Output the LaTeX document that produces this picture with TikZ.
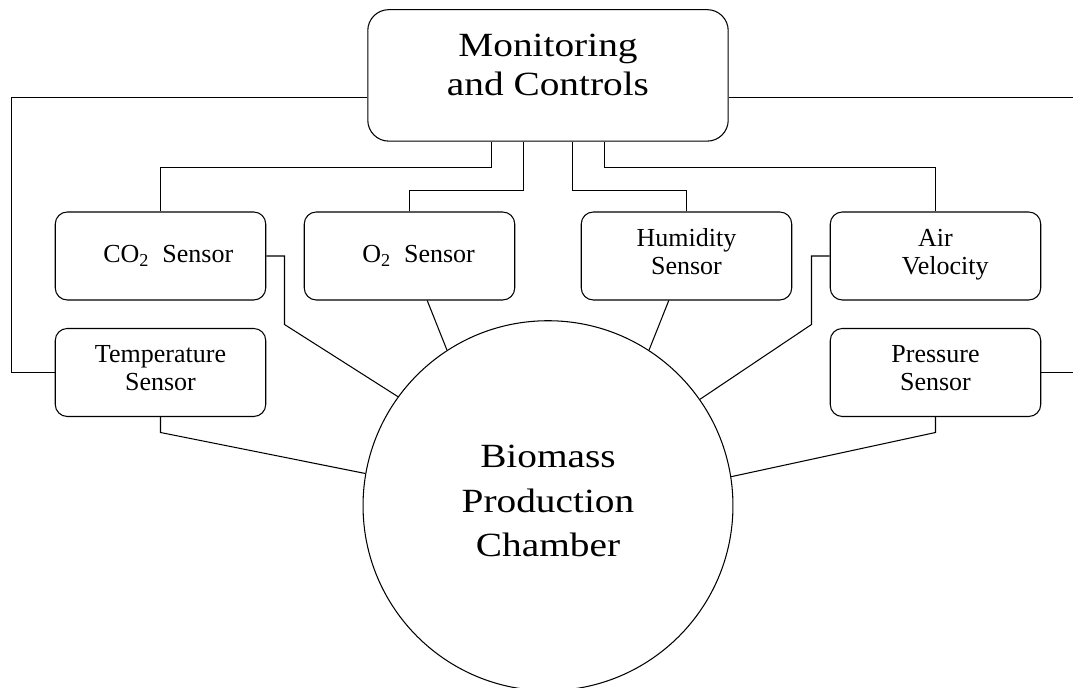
\documentclass[tikz,border=0pt]{standalone}
\usepackage{fontspec}
\setmainfont{Liberation Serif}
\newfontfamily\widefont[FakeStretch=1.16]{Liberation Serif}
\begin{document}
\begin{tikzpicture}[x=0.02cm,y=-0.02cm,line width=0.6pt,
	sensor/.style={rectangle,draw,rounded corners=0.24cm,minimum width=4.21cm,minimum height=1.76cm,inner sep=0pt,align=center,font=\fontsize{14.8}{16}\selectfont},
	twoline/.style={text depth=5pt},
	control/.style={rectangle,draw,rounded corners=0.42cm,minimum width=7.21cm,minimum height=2.63cm,inner sep=0pt,align=center,text depth=12.5pt,font=\widefont\fontsize{19.3}{22.1}\selectfont},
	chamber/.style={circle,draw,minimum size=7.4cm,inner sep=0pt,align=center,text depth=5.5pt,font=\widefont\fontsize{19.3}{25.3}\selectfont}]
	\useasboundingbox (0,0) rectangle (1073,688);

	\node (mc) [control] at (548,75.4) {Monitoring\\and Controls};
	\node (bpc) [chamber] at (548,505.7) {Biomass\\Production\\Chamber};

	\node (co2) [sensor] at (160.5,256) {\hspace*{0.6em}CO\textsubscript{2}\ \ Sensor};
	\node (o2) [sensor] at (409.5,256) {\hspace*{0.7em}O\textsubscript{2}\ \ Sensor};
	\node (hum) [sensor,twoline] at (686.5,256) {Humidity\\Sensor};
	\node (air) [sensor,twoline] at (935.5,256) {Air\\\hspace*{0.75em}Velocity};
	\node (temp) [sensor,twoline] at (160.5,372.5) {Temperature\\Sensor};
	\node (pres) [sensor,twoline] at (935.5,372.5) {Pressure\\Sensor};

	% monitoring and controls to the sensors
	\draw (491.5,0 |- mc.south) -- (491.5,167.5) -| (co2);
	\draw (523.5,0 |- mc.south) -- (523.5,190.5) -| (o2);
	\draw (572.5,0 |- mc.south) -- (572.5,190.5) -| (hum);
	\draw (604.5,0 |- mc.south) -- (604.5,167.5) -| (air);
	\draw (0,97.5 -| mc.west) -- (11.5,97.5) |- (temp);
	\draw (0,97.5 -| mc.east) -- (1084.5,97.5) |- (pres);

	% sensors to the chamber
	\draw (co2) -- (284.5,256) -- (284.5,324.5) -- (bpc.144.6);
	\draw (o2) -- (bpc.123);
	\draw (hum) -- (bpc.57);
	\draw (air) -- (811.5,256) -- (811.5,324.5) -- (bpc.35.4);
	\draw (temp) -- (160.5,432.5) -- (bpc.170.1);
	\draw (pres) -- (935.5,432.5) -- (bpc.9.9);
\end{tikzpicture}
\end{document}
